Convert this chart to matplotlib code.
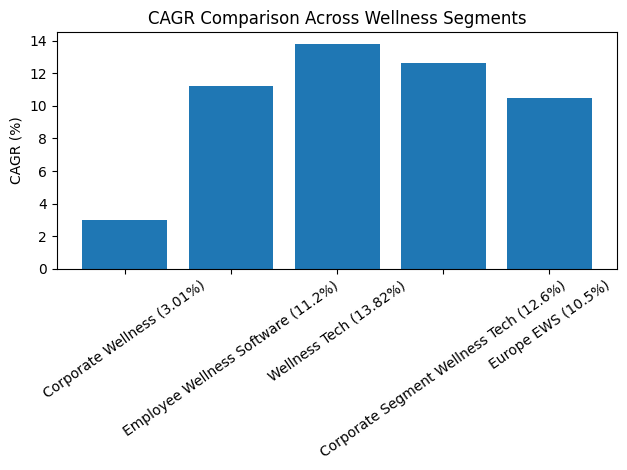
import matplotlib
matplotlib.use("Agg")
import matplotlib.pyplot as plt

segments = [
    "Corporate Wellness (3.01%)",
    "Employee Wellness Software (11.2%)",
    "Wellness Tech (13.82%)",
    "Corporate Segment Wellness Tech (12.6%)",
    "Europe EWS (10.5%)",
]
cagr = [3.01, 11.2, 13.82, 12.6, 10.5]

fig, ax = plt.subplots(figsize=(6.4, 4.8), dpi=100)
ax.bar(segments, cagr, color="#1f77b4")
ax.set_ylabel("CAGR (%)")
ax.set_title("CAGR Comparison Across Wellness Segments")
plt.xticks(rotation=35)
plt.tight_layout()
plt.savefig("out.png", bbox_inches="tight")
